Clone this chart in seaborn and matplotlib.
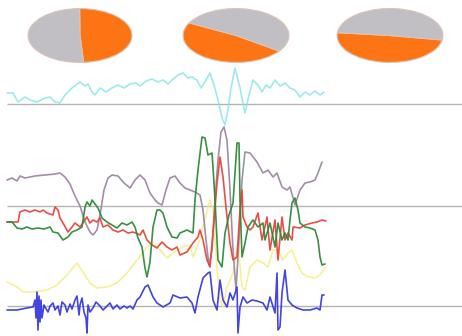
import numpy as np
import pandas as pd
import seaborn as sns
import matplotlib
matplotlib.use("Agg")
import matplotlib.pyplot as plt

sns.set_style("white")

# pie shares (orange part, percent) and where the orange wedge starts
pie_orange = [49, 48, 49]
pie_gray = [100 - v for v in pie_orange]
pie_start = [-86, 152, 174]

# reference levels (horizontal rules)
ref_levels = [104, 206, 306]

# traces (x, y in image units, y grows downwards)
cyan_x = [7, 13, 18, 25, 30, 37, 45, 50, 55, 60, 65, 72, 80, 85, 88, 92, 95, 100, 106, 112,
          118, 124, 130, 136, 140, 146, 152, 158, 163, 168, 172, 178, 183, 188, 192,
          197, 201, 206, 210, 214, 218, 222, 225, 228, 231, 235, 240, 245, 249, 253,
          258, 262, 266, 270, 275, 280, 285, 290, 295, 300, 305, 310, 315, 320, 324]
cyan_y = [93, 93, 102, 97, 100, 102, 98, 97, 102, 103, 95, 88, 82, 86, 84, 92, 95, 88, 92, 88,
          85, 88, 84, 83, 86, 81, 79, 82, 80, 84, 80, 75, 73, 78, 77,
          80, 88, 80, 73, 85, 100, 118, 125, 110, 88, 68, 88, 113, 95, 80,
          85, 92, 85, 88, 80, 86, 83, 88, 90, 97, 92, 95, 91, 95, 92]

purple_x = [7, 12, 17, 20, 25, 35, 45, 55, 60, 65, 70, 75, 80, 85, 90, 93, 97, 100, 104, 108,
            112, 118, 124, 130, 135, 140, 145, 150, 155, 158, 162, 166, 170, 175, 180, 185,
            190, 195, 200, 203, 206, 209, 212, 215, 218, 221, 224, 227, 230, 233, 236, 239,
            242, 245, 250, 257, 263, 268, 273, 277, 282, 287, 290, 295, 300, 305, 310, 315,
            318, 322]
purple_y = [180, 178, 181, 176, 178, 176, 175, 174, 173, 177, 184, 196, 206, 222, 232, 235, 230,
            215, 190, 178, 175, 176, 183, 188, 180, 175, 180, 193, 200, 203, 205, 190, 178,
            176, 183, 188, 190, 192, 195, 210, 240, 265, 250, 200, 160, 132, 127, 140, 190,
            250, 290, 240, 180, 152, 153, 162, 173, 170, 177, 173, 187, 190, 187, 205, 190,
            183, 182, 180, 173, 162]

green_x = [7, 12, 17, 22, 27, 32, 38, 44, 50, 53, 58, 63, 68, 72, 77, 82, 85, 87, 90, 92, 95,
           98, 102, 107, 112, 117, 122, 127, 132, 135, 138, 142, 145, 147, 150, 153, 157, 160,
           163, 167, 172, 177, 180, 187, 193, 195, 198, 202, 205, 208, 212, 213, 215, 218, 222,
           225, 229, 233, 237, 239, 240, 242, 245, 248, 253, 258, 263, 265, 270, 275, 278, 282,
           285, 288, 290, 292, 295, 298, 300, 305, 310, 315, 318, 320, 322, 325]
green_y = [222, 222, 228, 229, 227, 229, 228, 229, 227, 232, 233, 240, 237, 232, 230, 227, 207,
           202, 206, 200, 204, 208, 218, 222, 225, 228, 223, 225, 222, 227, 238, 247, 268, 277,
           262, 227, 210, 210, 213, 227, 237, 238, 233, 230, 233, 200, 170, 137, 138, 155, 153,
           167, 200, 260, 267, 233, 215, 203, 143, 143, 200, 257, 243, 227, 220, 227, 223, 240,
           223, 247, 223, 240, 233, 240, 220, 203, 198, 210, 223, 227, 228, 230, 240, 257, 265,
           264]

red_x = [7, 12, 18, 20, 25, 30, 35, 40, 43, 47, 53, 55, 58, 60, 63, 68, 72, 75, 80, 87, 90, 93,
         97, 100, 103, 108, 113, 118, 123, 128, 133, 140, 143, 147, 152, 157, 162, 167, 172,
         177, 180, 187, 193, 198, 200, 203, 207, 210, 213, 217, 220, 223, 227, 230, 233, 237,
         240, 242, 243, 247, 250, 253, 258, 262, 267, 270, 275, 278, 282, 285, 288, 292, 293,
         300, 305, 312, 317, 322, 326]
red_y = [222, 222, 222, 212, 210, 212, 210, 212, 210, 213, 215, 207, 210, 218, 223, 232, 227,
         223, 227, 217, 223, 220, 222, 218, 227, 225, 230, 232, 230, 233, 232, 235, 230, 240,
         245, 248, 242, 247, 250, 247, 255, 252, 243, 237, 230, 240, 260, 267, 233, 183, 157,
         177, 217, 243, 260, 257, 210, 190, 217, 227, 230, 227, 213, 240, 217, 250, 220, 260,
         217, 240, 233, 240, 227, 228, 225, 223, 222, 220, 221]

yellow_x = [7, 17, 23, 33, 47, 57, 67, 77, 83, 90, 97, 107, 117, 127, 137, 147, 153, 160, 167,
            173, 182, 190, 193, 200, 203, 210, 213, 217, 220, 223, 227, 233, 238, 242, 245,
            250, 257, 263, 268, 273, 278, 283, 288, 292, 297, 302, 308, 315, 320, 325]
yellow_y = [282, 287, 292, 292, 290, 285, 275, 263, 272, 283, 288, 287, 283, 273, 260, 247,
            243, 250, 258, 253, 247, 245, 257, 240, 227, 200, 210, 267, 300, 307, 287, 273,
            243, 287, 290, 267, 260, 263, 267, 250, 250, 260, 253, 250, 263, 273, 277, 278,
            275, 268]

blue_x = [7, 17, 27, 33, 35, 36, 37, 38, 39, 40, 41, 42, 44, 45, 48, 50, 53, 55, 58, 60, 62,
          65, 67, 70, 72, 75, 77, 79, 80, 82, 84, 86, 87, 88, 90, 93, 96, 100, 103, 107, 110,
          113, 117, 120, 124, 127, 130, 133, 137, 140, 145, 148, 153, 157, 163, 170, 173, 180,
          187, 192, 195, 198, 203, 208, 210, 213, 217, 220, 223, 227, 230, 233, 237, 238, 240,
          243, 247, 252, 257, 263, 267, 270, 275, 277, 278, 280, 282, 285, 288, 292, 297, 303,
          310, 317, 320, 322, 324]
blue_y = [310, 310, 308, 307, 300, 318, 292, 330, 296, 322, 300, 318, 305, 307, 312, 306, 303,
          310, 306, 315, 302, 305, 312, 304, 309, 300, 296, 315, 305, 298, 312, 318, 333, 305,
          312, 308, 302, 306, 310, 306, 303, 309, 305, 309, 306, 308, 306, 309, 300, 297, 287,
          285, 297, 303, 307, 303, 295, 298, 297, 303, 313, 297, 278, 273, 272, 300, 310, 280,
          300, 307, 293, 300, 287, 333, 307, 297, 303, 300, 301, 303, 310, 297, 313, 273, 330,
          327, 293, 270, 300, 305, 308, 310, 310, 308, 310, 295, 295]

traces = [
    (yellow_x, yellow_y, "#f4ee88", 0.85),
    (purple_x, purple_y, "#a28ea6", 1.0),
    (red_x, red_y, "#e8453c", 0.95),
    (green_x, green_y, "#2f8a3a", 0.95),
    (blue_x, blue_y, "#3a3ae0", 0.95),
    (cyan_x, cyan_y, "#7fe3e6", 0.75),
]

W, H = 462, 336
fig = plt.figure(figsize=(W / 100, H / 100), dpi=100)
ax = fig.add_axes([0, 0, 1, 1])

ax.hlines(ref_levels, 7, W, color="#b4b4b4", lw=1)
for xs, ys, col, a in traces:
    sns.lineplot(x=xs, y=ys, color=col, alpha=a, lw=1.2, sort=False,
                 estimator=None, legend=False, ax=ax)

ax.set_xlim(0, W)
ax.set_ylim(H, 0)
ax.axis("off")

# the three pies, stretched into ellipses
pie_boxes = [(27, 8, 106, 55), (182, 8, 108, 55), (336, 8, 108, 55)]
for (x0, y0, w, h), o, g, st in zip(pie_boxes, pie_orange, pie_gray, pie_start):
    pax = fig.add_axes([x0 / W, 1 - (y0 + h) / H, w / W, h / H])
    pax.pie([o, g], colors=["#fd7415", "#c1bfc3"], startangle=st, counterclock=True,
            wedgeprops=dict(edgecolor="#dcc3b8", linewidth=0.8))
    pax.set_aspect("auto")
    pax.set_xlim(-1.02, 1.02)
    pax.set_ylim(-1.02, 1.02)
    pax.axis("off")

fig.savefig("out.png", dpi=100)
